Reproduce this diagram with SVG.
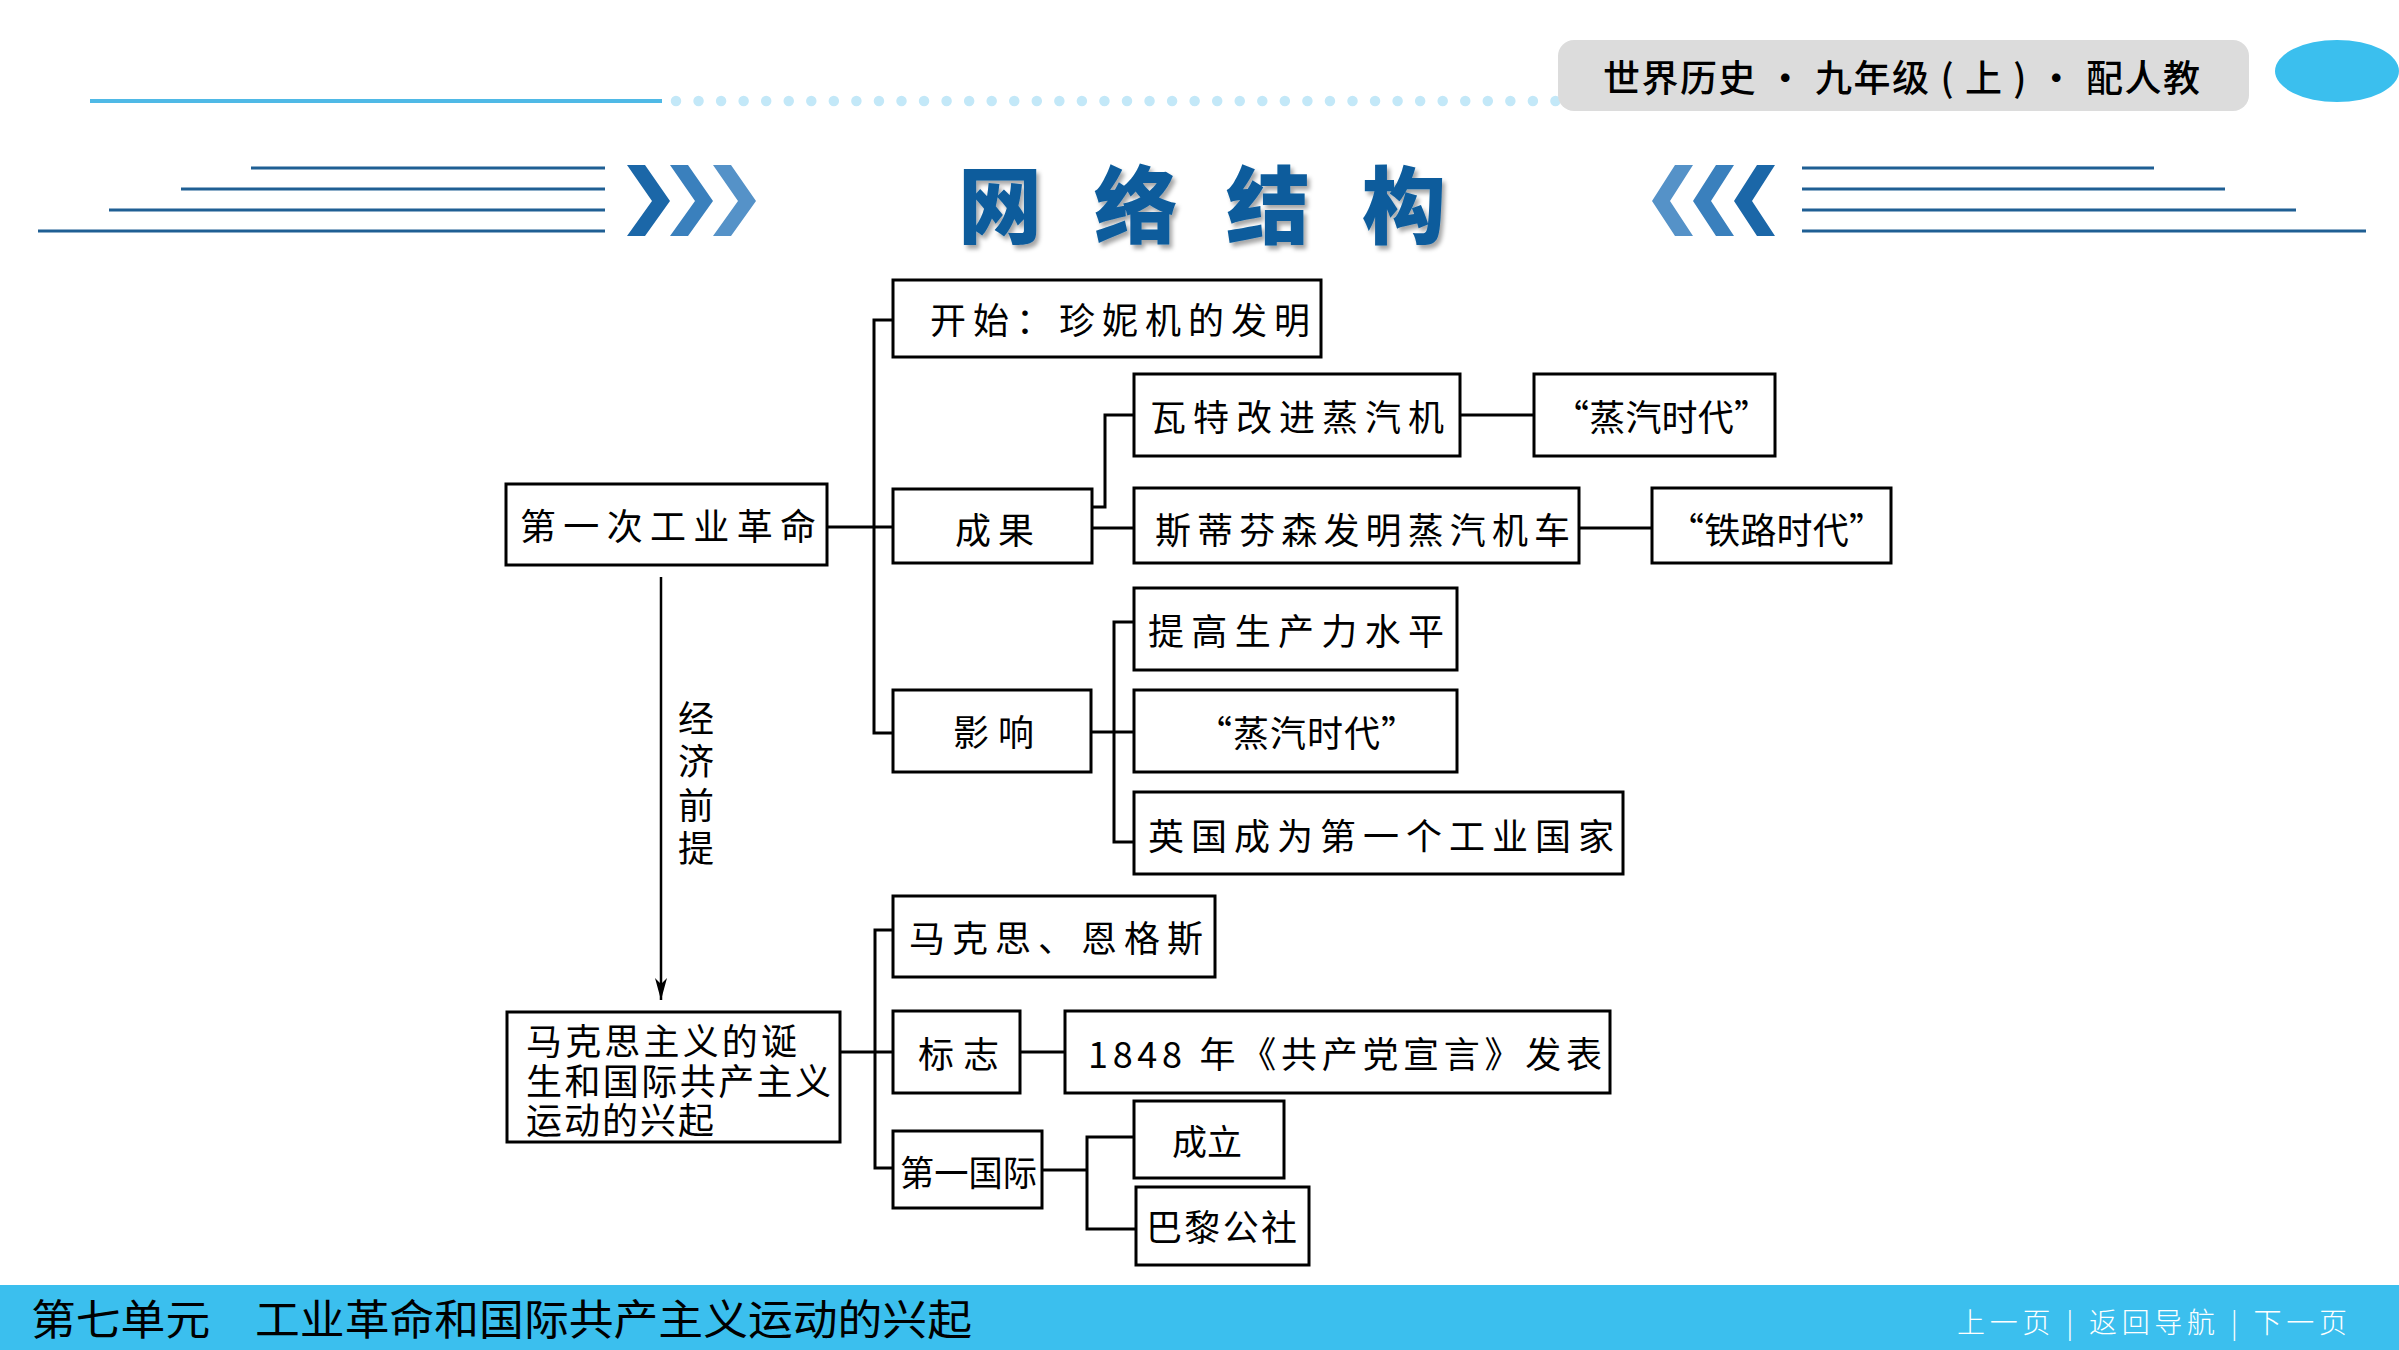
<svg xmlns="http://www.w3.org/2000/svg" width="2399" height="1350" viewBox="0 0 2399 1350">
<defs>
<style>
.box{fill:#fff;stroke:#000;stroke-width:3}
.ln{fill:none;stroke:#000;stroke-width:3}
.t{font-family:"Noto Sans CJK SC","Noto Sans",sans-serif;font-size:36px;fill:#000;dominant-baseline:central}
.hl{stroke:#1f5f94;stroke-width:3}
</style>
<filter id="sh" x="-20%" y="-20%" width="140%" height="140%">
<feDropShadow dx="3" dy="4" stdDeviation="2" flood-color="#000" flood-opacity="0.35"/>
</filter>
<marker id="ah" markerWidth="24" markerHeight="12" refX="22" refY="6" orient="auto" markerUnits="userSpaceOnUse" viewBox="0 0 24 12">
<path d="M0,0 L22,6 L0,12 L6,6 Z" fill="#000"/>
</marker>
</defs>
<rect width="2399" height="1350" fill="#fff"/>

<g id="header">
<line x1="90" y1="101" x2="662" y2="101" stroke="#4fb9e6" stroke-width="4"/>
<line x1="676" y1="101" x2="1556" y2="101" stroke="#c3e8f8" stroke-width="10.5" stroke-linecap="round" stroke-dasharray="0 22.55"/>
<rect x="1558" y="40" width="691" height="71" rx="16" fill="#dcdcdc"/>
<text x="1603" y="76" textLength="597" lengthAdjust="spacing" style="font-family:'Noto Sans CJK SC',sans-serif;font-size:37px;font-weight:500;fill:#000;dominant-baseline:central">世界历史 • 九年级 ( 上 ) • 配人教</text>
<ellipse cx="2337" cy="71" rx="62" ry="31" fill="#3bbfee"/>
<line class="hl" x1="251" y1="168" x2="605" y2="168"/>
<line class="hl" x1="181" y1="189" x2="605" y2="189"/>
<line class="hl" x1="109" y1="210" x2="605" y2="210"/>
<line class="hl" x1="38" y1="231" x2="605" y2="231"/>
<polygon points="627,165 645,165 670,201 645,236 627,236 652,201" fill="#1b67a8"/>
<polygon points="670,165 688,165 713,201 688,236 670,236 695,201" fill="#3a80bd"/>
<polygon points="713,165 731,165 756,201 731,236 713,236 738,201" fill="#5592c8"/>
<polygon points="1775,165 1757,165 1734,201 1757,236 1775,236 1752,201" fill="#1b67a8"/>
<polygon points="1734,165 1716,165 1693,201 1716,236 1734,236 1711,201" fill="#3a80bd"/>
<polygon points="1693,165 1675,165 1652,201 1675,236 1693,236 1670,201" fill="#5592c8"/>
<line class="hl" x1="1802" y1="168" x2="2154" y2="168"/>
<line class="hl" x1="1802" y1="189" x2="2225" y2="189"/>
<line class="hl" x1="1802" y1="210" x2="2296" y2="210"/>
<line class="hl" x1="1802" y1="231" x2="2366" y2="231"/>
<text x="1000 1136 1268 1404" y="200" text-anchor="middle" filter="url(#sh)" style="font-family:'Noto Sans CJK SC',sans-serif;font-size:84px;font-weight:900;fill:#0b5c9c;dominant-baseline:central">网络结构</text>
</g>

<g id="connectors">
<polyline class="ln" points="827,527 893,527"/>
<polyline class="ln" points="893,320 874,320 874,733 893,733"/>
<polyline class="ln" points="1092,507 1105,507 1105,415 1134,415"/>
<polyline class="ln" points="1092,528 1134,528"/>
<polyline class="ln" points="1460,415 1534,415"/>
<polyline class="ln" points="1579,528 1652,528"/>
<polyline class="ln" points="1091,732 1114,732"/>
<polyline class="ln" points="1134,622 1114,622 1114,842 1134,842"/>
<polyline class="ln" points="1114,732 1134,732"/>
<line x1="661" y1="577" x2="661" y2="1000" stroke="#000" stroke-width="2.5" marker-end="url(#ah)"/>
<polyline class="ln" points="840,1052 893,1052"/>
<polyline class="ln" points="893,930 875,930 875,1168 893,1168"/>
<polyline class="ln" points="1020,1052 1065,1052"/>
<polyline class="ln" points="1042,1170 1087,1170"/>
<polyline class="ln" points="1134,1137 1087,1137 1087,1229 1136,1229"/>
</g>

<g id="n-first">
<rect class="box" x="506" y="484" width="321" height="81"/>
<text class="t" x="520" y="524" textLength="296" lengthAdjust="spacing">第一次工业革命</text>
</g>
<g id="n-start">
<rect class="box" x="893" y="280" width="428" height="77"/>
<text class="t" x="930" y="318" textLength="380" lengthAdjust="spacing">开始：珍妮机的发明</text>
</g>
<g id="n-result">
<rect class="box" x="893" y="489" width="199" height="74"/>
<text class="t" x="955" y="528" textLength="79" lengthAdjust="spacing">成果</text>
</g>
<g id="n-watt">
<rect class="box" x="1134" y="374" width="326" height="82"/>
<text class="t" x="1150" y="415" textLength="294" lengthAdjust="spacing">瓦特改进蒸汽机</text>
</g>
<g id="n-steam1">
<rect class="box" x="1534" y="374" width="241" height="82"/>
<text class="t" x="1553" y="415" textLength="217" lengthAdjust="spacing">“蒸汽时代”</text>
</g>
<g id="n-steph">
<rect class="box" x="1134" y="488" width="445" height="75"/>
<text class="t" x="1155" y="528" textLength="415" lengthAdjust="spacing">斯蒂芬森发明蒸汽机车</text>
</g>
<g id="n-rail">
<rect class="box" x="1652" y="488" width="239" height="75"/>
<text class="t" x="1668" y="528" textLength="217" lengthAdjust="spacing">“铁路时代”</text>
</g>
<g id="n-prod">
<rect class="box" x="1134" y="588" width="323" height="82"/>
<text class="t" x="1148" y="629" textLength="296" lengthAdjust="spacing">提高生产力水平</text>
</g>
<g id="n-impact">
<rect class="box" x="893" y="690" width="198" height="82"/>
<text class="t" x="953" y="730" textLength="81" lengthAdjust="spacing">影响</text>
</g>
<g id="n-steam2">
<rect class="box" x="1134" y="690" width="323" height="82"/>
<text class="t" x="1196" y="731" textLength="221" lengthAdjust="spacing">“蒸汽时代”</text>
</g>
<g id="n-uk">
<rect class="box" x="1134" y="792" width="489" height="82"/>
<text class="t" x="1148" y="834" textLength="466" lengthAdjust="spacing">英国成为第一个工业国家</text>
</g>
<g id="n-label">
<text x="696" y="700" writing-mode="vertical-rl" style="font-family:'Noto Sans CJK SC',sans-serif;font-size:36px;fill:#000;letter-spacing:7.5px">经济前提</text>
</g>
<g id="n-marxism">
<rect class="box" x="507" y="1012" width="333" height="130"/>
<text class="t" style="font-size:36px"><tspan x="526" y="1039" textLength="271" lengthAdjust="spacing">马克思主义的诞</tspan><tspan x="526" y="1079" textLength="305" lengthAdjust="spacing">生和国际共产主义</tspan><tspan x="526" y="1118" textLength="188" lengthAdjust="spacing">运动的兴起</tspan></text>
</g>
<g id="n-marx">
<rect class="box" x="893" y="896" width="322" height="81"/>
<text class="t" x="909" y="936" textLength="294" lengthAdjust="spacing">马克思、恩格斯</text>
</g>
<g id="n-sign">
<rect class="box" x="893" y="1011" width="127" height="82"/>
<text class="t" x="918" y="1052" textLength="81" lengthAdjust="spacing">标志</text>
</g>
<g id="n-manifesto">
<rect class="box" x="1065" y="1011" width="545" height="82"/>
<text class="t" x="1088" y="1052" textLength="514" lengthAdjust="spacing">1848 年《共产党宣言》发表</text>
</g>
<g id="n-intl">
<rect class="box" x="893" y="1131" width="149" height="77"/>
<text class="t" x="900" y="1170" textLength="137" lengthAdjust="spacingAndGlyphs" style="font-size:35px">第一国际</text>
</g>
<g id="n-found">
<rect class="box" x="1134" y="1101" width="150" height="77"/>
<text class="t" x="1172" y="1139" textLength="70" lengthAdjust="spacing" style="font-size:35px">成立</text>
</g>
<g id="n-paris">
<rect class="box" x="1136" y="1187" width="173" height="78"/>
<text class="t" x="1146" y="1225" textLength="151" lengthAdjust="spacing" style="font-size:36px">巴黎公社</text>
</g>

<g id="footer">
<rect x="0" y="1285" width="2399" height="65" fill="#3bbfee"/>
<text x="31" y="1316" style="font-family:'Noto Sans CJK SC',sans-serif;font-size:42px;fill:#000;dominant-baseline:central" textLength="941" lengthAdjust="spacingAndGlyphs">第七单元　工业革命和国际共产主义运动的兴起</text>
<text x="1957" y="1321" style="font-family:'Noto Sans CJK SC',sans-serif;font-size:28px;font-weight:300;fill:#fff;dominant-baseline:central" textLength="390" lengthAdjust="spacing">上一页 | 返回导航 | 下一页</text>
</g>
</svg>
